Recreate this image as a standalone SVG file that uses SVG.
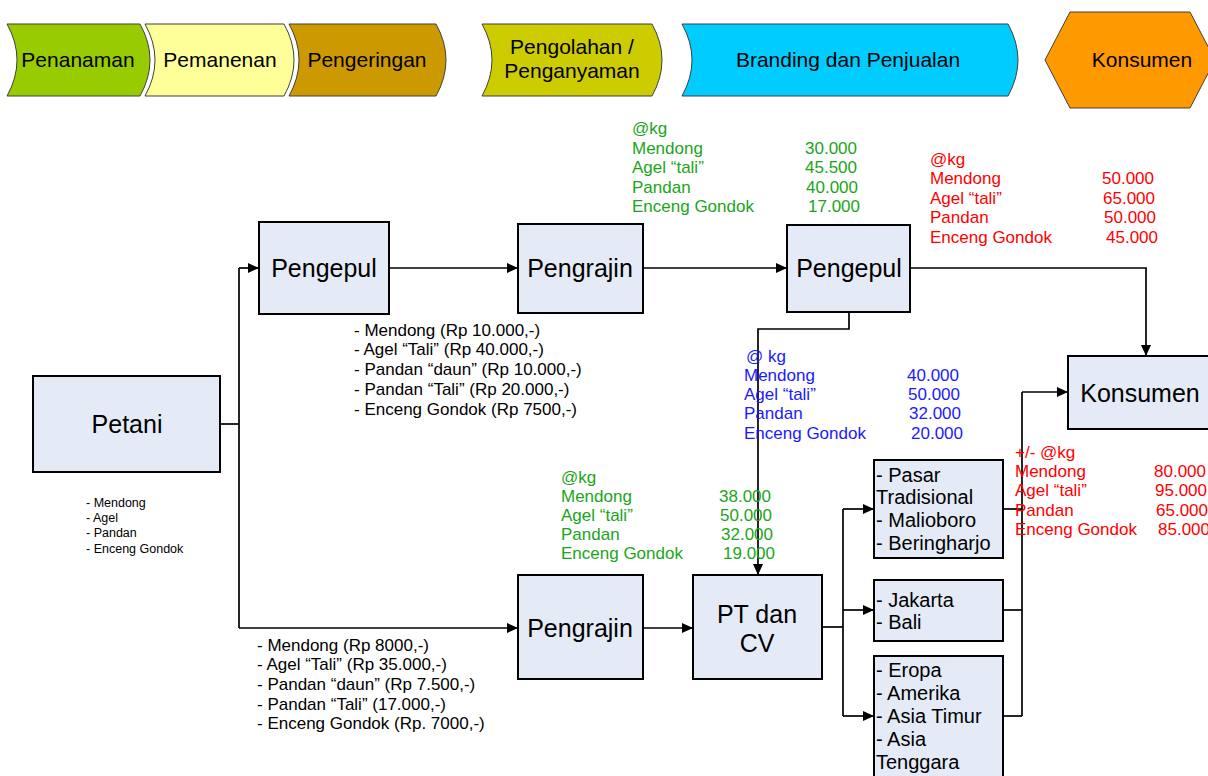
<svg xmlns="http://www.w3.org/2000/svg" width="1208" height="776" viewBox="0 0 1208 776">
<defs>
<marker id="arr" markerUnits="userSpaceOnUse" markerWidth="12" markerHeight="10" refX="11" refY="5" orient="auto">
<path d="M0,0 L11,5 L0,10 z" fill="#000"/>
</marker>
<style>
text{font-family:"Liberation Sans",Arial,sans-serif}
.ban{stroke:#404040;stroke-width:1}
.bt{font-size:21px;fill:#000;text-anchor:middle}
.node{fill:#e4ebf6;stroke:#000;stroke-width:2}
.nl{font-size:25px;fill:#000;text-anchor:middle}
.bx{font-size:20px;fill:#000}
.tb{font-size:17px}
.g{fill:#1aa51a}
.r{fill:#ff0000}
.b{fill:#1a1aff}
.k{fill:#000}
.sm{font-size:12.5px;fill:#000}
.c{fill:none;stroke:#000;stroke-width:1.7}
.ca{fill:none;stroke:#000;stroke-width:1.7;marker-end:url(#arr)}
</style>
</defs>
<rect width="1208" height="776" fill="#fff"/>

<g id="banner">
<g id="b-penanaman"><path class="ban" fill="#99cc00" d="M7,24 L140,24 Q160,60 140,96 L7,96 Q27,60 7,24 Z"/><text class="bt" x="78" y="67">Penanaman</text></g>
<g id="b-pemanenan"><path class="ban" fill="#ffff99" d="M145,24 L284,24 Q304,60 284,96 L145,96 Q165,60 145,24 Z"/><text class="bt" x="220" y="67">Pemanenan</text></g>
<g id="b-pengeringan"><path class="ban" fill="#cc9900" d="M289,24 L436,24 Q456,60 436,96 L289,96 Q309,60 289,24 Z"/><text class="bt" x="367" y="67">Pengeringan</text></g>
<g id="b-pengolahan"><path class="ban" fill="#cccc00" d="M482,24 L652,24 Q672,60 652,96 L482,96 Q502,60 482,24 Z"/><text class="bt" x="572" y="54">Pengolahan /</text><text class="bt" x="572" y="78">Penganyaman</text></g>
<g id="b-branding"><path class="ban" fill="#00ccff" d="M682,24 L1008,24 Q1028,60 1008,96 L682,96 Q702,60 682,24 Z"/><text class="bt" x="848" y="67">Branding dan Penjualan</text></g>
<g id="b-konsumen"><path class="ban" fill="#ff9900" d="M1045,60 L1070,12 L1190,12 L1215,60 L1190,108 L1070,108 Z"/><text class="bt" x="1142" y="67">Konsumen</text></g>
</g>

<g id="connectors">
<path class="c" d="M220,424 H239"/>
<path class="c" d="M239,268 V628"/>
<path class="ca" d="M239,268 H259"/>
<path class="ca" d="M239,628 H518"/>
<path class="ca" d="M389,268 H518"/>
<path class="ca" d="M643,268 H787"/>
<path class="ca" d="M910,268 H1146 V356"/>
<path class="ca" d="M849,312 V329 H758 V575"/>
<path class="ca" d="M643,628 H693"/>
<path class="c" d="M822,627 H843"/>
<path class="c" d="M843,509 V716"/>
<path class="ca" d="M843,509 H874"/>
<path class="ca" d="M843,610 H874"/>
<path class="ca" d="M843,716 H874"/>
<path class="c" d="M1003,509 H1022"/>
<path class="c" d="M1003,610 H1022"/>
<path class="c" d="M1003,716 H1022"/>
<path class="c" d="M1022,716 V392"/>
<path class="ca" d="M1022,392 H1068"/>
</g>

<g id="petani"><rect class="node" x="33" y="376" width="187" height="96"/><text class="nl" x="127" y="433">Petani</text></g>
<g id="pengepul1"><rect class="node" x="259" y="222" width="130" height="92"/><text class="nl" x="324" y="277">Pengepul</text></g>
<g id="pengrajin1"><rect class="node" x="518" y="224" width="125" height="89"/><text class="nl" x="580" y="277">Pengrajin</text></g>
<g id="pengepul2"><rect class="node" x="787" y="225" width="123" height="87"/><text class="nl" x="849" y="277">Pengepul</text></g>
<g id="konsumen"><rect class="node" x="1068" y="356" width="150" height="73"/><text class="nl" x="1140" y="402">Konsumen</text></g>
<g id="pengrajin2"><rect class="node" x="518" y="575" width="125" height="104"/><text class="nl" x="580" y="637">Pengrajin</text></g>
<g id="ptcv"><rect class="node" x="693" y="575" width="129" height="104"/><text class="nl" x="757" y="623">PT dan</text><text class="nl" x="757" y="652">CV</text></g>
<g id="pasar"><rect class="node" x="874" y="460" width="129" height="98"/>
<text class="bx" x="876" y="482">- Pasar</text><text class="bx" x="876" y="504">Tradisional</text><text class="bx" x="876" y="527">- Malioboro</text><text class="bx" x="876" y="550">- Beringharjo</text></g>
<g id="jakarta"><rect class="node" x="874" y="580" width="129" height="61"/>
<text class="bx" x="876" y="607">- Jakarta</text><text class="bx" x="876" y="629">- Bali</text></g>
<g id="ekspor"><rect class="node" x="874" y="656" width="129" height="130"/>
<text class="bx" x="876" y="677">- Eropa</text><text class="bx" x="876" y="700">- Amerika</text><text class="bx" x="876" y="723">- Asia Timur</text><text class="bx" x="876" y="746">- Asia</text><text class="bx" x="876" y="769">Tenggara</text></g>

<g id="petani-list">
<text class="sm" x="86" y="507">- Mendong</text>
<text class="sm" x="86" y="522">- Agel</text>
<text class="sm" x="86" y="537">- Pandan</text>
<text class="sm" x="86" y="553">- Enceng Gondok</text>
</g>

<g id="price-top">
<text class="tb k" x="354" y="336">- Mendong (Rp 10.000,-)</text>
<text class="tb k" x="354" y="355">- Agel “Tali” (Rp 40.000,-)</text>
<text class="tb k" x="354" y="375">- Pandan “daun” (Rp 10.000,-)</text>
<text class="tb k" x="354" y="395">- Pandan “Tali” (Rp 20.000,-)</text>
<text class="tb k" x="354" y="415">- Enceng Gondok (Rp 7500,-)</text>
</g>
<g id="price-bottom">
<text class="tb k" x="257" y="651">- Mendong (Rp 8000,-)</text>
<text class="tb k" x="257" y="670">- Agel “Tali” (Rp 35.000,-)</text>
<text class="tb k" x="257" y="690">- Pandan “daun” (Rp 7.500,-)</text>
<text class="tb k" x="257" y="710">- Pandan “Tali” (17.000,-)</text>
<text class="tb k" x="257" y="729">- Enceng Gondok (Rp. 7000,-)</text>
</g>

<g id="table-green-top">
<text class="tb g" x="632" y="134">@kg</text>
<text class="tb g" x="632" y="154">Mendong</text><text class="tb g" x="805" y="154">30.000</text>
<text class="tb g" x="632" y="173">Agel “tali”</text><text class="tb g" x="805" y="173">45.500</text>
<text class="tb g" x="632" y="193">Pandan</text><text class="tb g" x="806" y="193">40.000</text>
<text class="tb g" x="632" y="212">Enceng Gondok</text><text class="tb g" x="808" y="212">17.000</text>
</g>
<g id="table-red-top">
<text class="tb r" x="930" y="165">@kg</text>
<text class="tb r" x="930" y="184">Mendong</text><text class="tb r" x="1102" y="184">50.000</text>
<text class="tb r" x="930" y="204">Agel “tali”</text><text class="tb r" x="1103" y="204">65.000</text>
<text class="tb r" x="930" y="223">Pandan</text><text class="tb r" x="1104" y="223">50.000</text>
<text class="tb r" x="930" y="243">Enceng Gondok</text><text class="tb r" x="1106" y="243">45.000</text>
</g>
<g id="table-blue">
<text class="tb b" x="746" y="362">@ kg</text>
<text class="tb b" x="744" y="381">Mendong</text><text class="tb b" x="907" y="381">40.000</text>
<text class="tb b" x="744" y="400">Agel “tali”</text><text class="tb b" x="908" y="400">50.000</text>
<text class="tb b" x="744" y="419">Pandan</text><text class="tb b" x="909" y="419">32.000</text>
<text class="tb b" x="744" y="439">Enceng Gondok</text><text class="tb b" x="911" y="439">20.000</text>
</g>
<g id="table-green-bottom">
<text class="tb g" x="561" y="483">@kg</text>
<text class="tb g" x="561" y="502">Mendong</text><text class="tb g" x="719" y="502">38.000</text>
<text class="tb g" x="561" y="521">Agel “tali”</text><text class="tb g" x="720" y="521">50.000</text>
<text class="tb g" x="561" y="540">Pandan</text><text class="tb g" x="721" y="540">32.000</text>
<text class="tb g" x="561" y="559">Enceng Gondok</text><text class="tb g" x="723" y="559">19.000</text>
</g>
<g id="table-red-bottom">
<text class="tb r" x="1015" y="458">+/- @kg</text>
<text class="tb r" x="1015" y="477">Mendong</text><text class="tb r" x="1154" y="477">80.000</text>
<text class="tb r" x="1015" y="496">Agel “tali”</text><text class="tb r" x="1155" y="496">95.000</text>
<text class="tb r" x="1015" y="516">Pandan</text><text class="tb r" x="1156" y="516">65.000</text>
<text class="tb r" x="1015" y="535">Enceng Gondok</text><text class="tb r" x="1158" y="535">85.000</text>
</g>
</svg>
